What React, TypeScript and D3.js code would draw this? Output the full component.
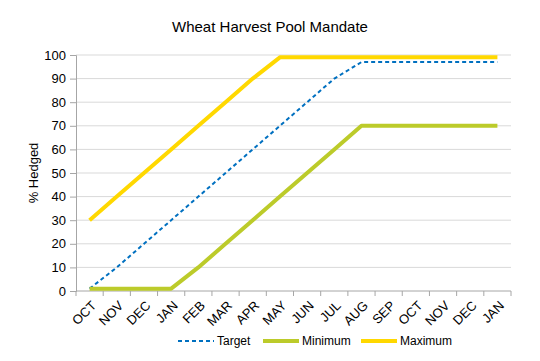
import { useEffect, useRef } from "react";
import * as d3 from "d3";

const months = ["OCT", "NOV", "DEC", "JAN", "FEB", "MAR", "APR", "MAY", "JUN", "JUL", "AUG", "SEP", "OCT", "NOV", "DEC", "JAN"];
const target = [1, 10, 20, 30, 40, 50, 60, 70, 80, 90, 97, 97, 97, 97, 97, 97];
const minimum = [1, 1, 1, 1, 10, 20, 30, 40, 50, 60, 70, 70, 70, 70, 70, 70];
const maximum = [30, 40, 50, 60, 70, 80, 90, 99, 99, 99, 99, 99, 99, 99, 99, 99];
const yTicks = [0, 10, 20, 30, 40, 50, 60, 70, 80, 90, 100];

const series = [
  { name: "Target", values: target, color: "#0070c0", width: 2, dash: "4,3" },
  { name: "Minimum", values: minimum, color: "#bccb2a", width: 4, dash: null },
  { name: "Maximum", values: maximum, color: "#ffd800", width: 4, dash: null },
];

export default function App() {
  const ref = useRef<SVGSVGElement>(null);

  useEffect(() => {
    const svg = d3.select(ref.current);
    svg.selectAll("*").remove();
    const font = "Liberation Sans, Arial, sans-serif";

    const left = 76, right = 511, top = 55, bottom = 291;
    const idx = months.map((_, i) => String(i));
    const x = d3.scaleBand().domain(idx).range([left, right]);
    const y = d3.scaleLinear().domain([0, 100]).range([bottom, top]);

    // title
    svg.append("text")
      .attr("x", 270).attr("y", 32)
      .attr("text-anchor", "middle")
      .attr("font-family", font).attr("font-size", 15)
      .attr("fill", "#000")
      .text("Wheat Harvest Pool Mandate");

    // grid
    svg.append("g").selectAll("line")
      .data(yTicks.filter(t => t > 0))
      .enter().append("line")
      .attr("x1", left).attr("x2", right)
      .attr("y1", d => y(d)).attr("y2", d => y(d))
      .attr("stroke", "#d9d9d9").attr("stroke-width", 1);

    // y axis
    const yAxis = svg.append("g")
      .attr("transform", `translate(${left},0)`)
      .call(d3.axisLeft(y).tickValues(yTicks).tickSize(6).tickPadding(4));
    yAxis.select(".domain").attr("stroke", "#a6a6a6");
    yAxis.selectAll(".tick line").attr("stroke", "#a6a6a6");
    yAxis.selectAll("text")
      .attr("font-family", font).attr("font-size", 13).attr("fill", "#000");

    // x axis
    const xAxis = svg.append("g").attr("transform", `translate(0,${bottom})`);
    xAxis.append("line")
      .attr("x1", left).attr("x2", right).attr("y1", 0).attr("y2", 0)
      .attr("stroke", "#a6a6a6");
    const bounds = idx.map(d => x(d) as number).concat([right]);
    xAxis.selectAll(".tk").data(bounds).enter().append("line")
      .attr("x1", d => d).attr("x2", d => d).attr("y1", 0).attr("y2", 5)
      .attr("stroke", "#a6a6a6");
    xAxis.selectAll(".lbl").data(months).enter().append("text")
      .attr("transform", (_, i) => {
        const cx = (x(String(i)) as number) + x.bandwidth() / 2 + 1;
        return `translate(${cx},9) rotate(-45)`;
      })
      .attr("text-anchor", "end")
      .attr("dy", "0.7em")
      .attr("font-family", font).attr("font-size", 13).attr("fill", "#000")
      .text(d => d);

    // y label
    svg.append("text")
      .attr("transform", `translate(38,${(top + bottom) / 2}) rotate(-90)`)
      .attr("text-anchor", "middle")
      .attr("font-family", font).attr("font-size", 13).attr("fill", "#000")
      .text("% Hedged");

    // lines
    const line = d3.line<number>()
      .x((_, i) => (x(String(i)) as number) + x.bandwidth() / 2)
      .y(d => y(d));
    series.forEach(s => {
      svg.append("path")
        .datum(s.values)
        .attr("fill", "none")
        .attr("stroke", s.color)
        .attr("stroke-width", s.width)
        .attr("stroke-dasharray", s.dash)
        .attr("stroke-linejoin", "round")
        .attr("d", line);
    });

    // legend
    const legendX = [178, 263, 361];
    const lg = svg.append("g").attr("transform", "translate(0,341)");
    series.forEach((s, i) => {
      lg.append("line")
        .attr("x1", legendX[i]).attr("x2", legendX[i] + 36)
        .attr("y1", 0).attr("y2", 0)
        .attr("stroke", s.color)
        .attr("stroke-width", s.width)
        .attr("stroke-dasharray", s.dash);
      lg.append("text")
        .attr("x", legendX[i] + 39).attr("y", 0)
        .attr("dy", "0.35em")
        .attr("font-family", font).attr("font-size", 12).attr("fill", "#000")
        .text(s.name);
    });
  }, []);

  return <svg ref={ref} width={540} height={361} style={{ display: "block", margin: -8 }} />;
}
